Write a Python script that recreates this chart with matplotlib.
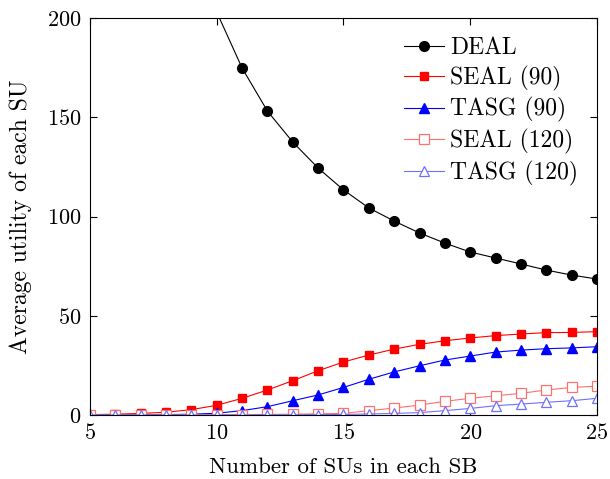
import numpy as np
import matplotlib
matplotlib.use("Agg")
import matplotlib.pyplot as plt

plt.rcParams['font.family'] = 'serif'
plt.rcParams['font.serif'] = ['cmr10']
plt.rcParams['mathtext.fontset'] = 'cm'
plt.rcParams['axes.formatter.use_mathtext'] = True

# number of SUs in each SB
n_su = [5, 6, 7, 8, 9, 10, 11, 12, 13, 14, 15, 16, 17, 18, 19, 20, 21, 22, 23, 24, 25]

# average utility (DEAL below 11 is off the top)
deal = [420, 350, 300, 260, 228, 203, 174.8, 153.1, 137.5, 124.4, 113.4, 104.3,
        97.7, 91.7, 86.6, 82.1, 79.1, 76.1, 73.0, 70.5, 68.5]
seal_90 = [0.2, 0.4, 0.8, 1.4, 2.7, 4.9, 8.4, 12.6, 17.3, 22.3, 26.7, 30.2,
           33.2, 35.6, 37.4, 38.8, 40.0, 40.8, 41.5, 41.6, 42.0]
tasg_90 = [0.0, 0.0, 0.1, 0.2, 0.4, 0.9, 2.2, 4.2, 7.2, 10.1, 13.9, 18.0,
           21.7, 24.8, 27.7, 29.7, 31.7, 32.7, 33.4, 33.8, 34.4]
seal_120 = [0.0, 0.0, 0.0, 0.0, 0.1, 0.1, 0.2, 0.3, 0.4, 0.6, 0.8, 2.2,
            3.5, 5.0, 6.9, 8.4, 9.7, 10.9, 12.6, 13.9, 14.5]
tasg_120 = [0.0, 0.0, 0.0, 0.0, 0.0, 0.0, 0.0, 0.1, 0.1, 0.2, 0.3, 0.5,
            0.8, 1.2, 2.2, 3.3, 4.7, 5.5, 6.4, 7.2, 8.4]

fig = plt.figure(figsize=(6.1, 4.79), dpi=100)
ax = fig.add_axes([0.1475, 0.1336, 0.8312, 0.8288])

lw = 0.8
ax.plot(n_su, deal, color='black', marker='o', markersize=7, lw=lw, label='DEAL')
ax.plot(n_su, seal_90, color='red', marker='s', markersize=6.3, lw=lw, label='SEAL (90)')
ax.plot(n_su, tasg_90, color='blue', marker='^', markersize=6.5, lw=lw, label='TASG (90)')
ax.plot(n_su, seal_120, color='#ff7070', marker='s', markersize=6.5, lw=lw, mew=0.9,
        markerfacecolor='white', label='SEAL (120)')
ax.plot(n_su, tasg_120, color='#7070ff', marker='^', markersize=6.5, lw=lw, mew=0.9,
        markerfacecolor='white', label='TASG (120)')

ax.set_xlim(5, 25)
ax.set_ylim(0, 200)
ax.set_xticks([5, 10, 15, 20, 25])
ax.set_yticks([0, 50, 100, 150, 200])
ax.tick_params(direction='in', top=True, right=True, labelsize=16, length=5, pad=6)
ax.set_xlabel('Number of SUs in each SB', fontsize=16.5, labelpad=10)
ax.set_ylabel('Average utility of each SU', fontsize=17, labelpad=11)

ax.legend(loc='upper right', frameon=False, fontsize=17, handlelength=1.7,
          labelspacing=0.28, handletextpad=0.25, borderaxespad=0.4)

fig.savefig('out.png', dpi=100)
